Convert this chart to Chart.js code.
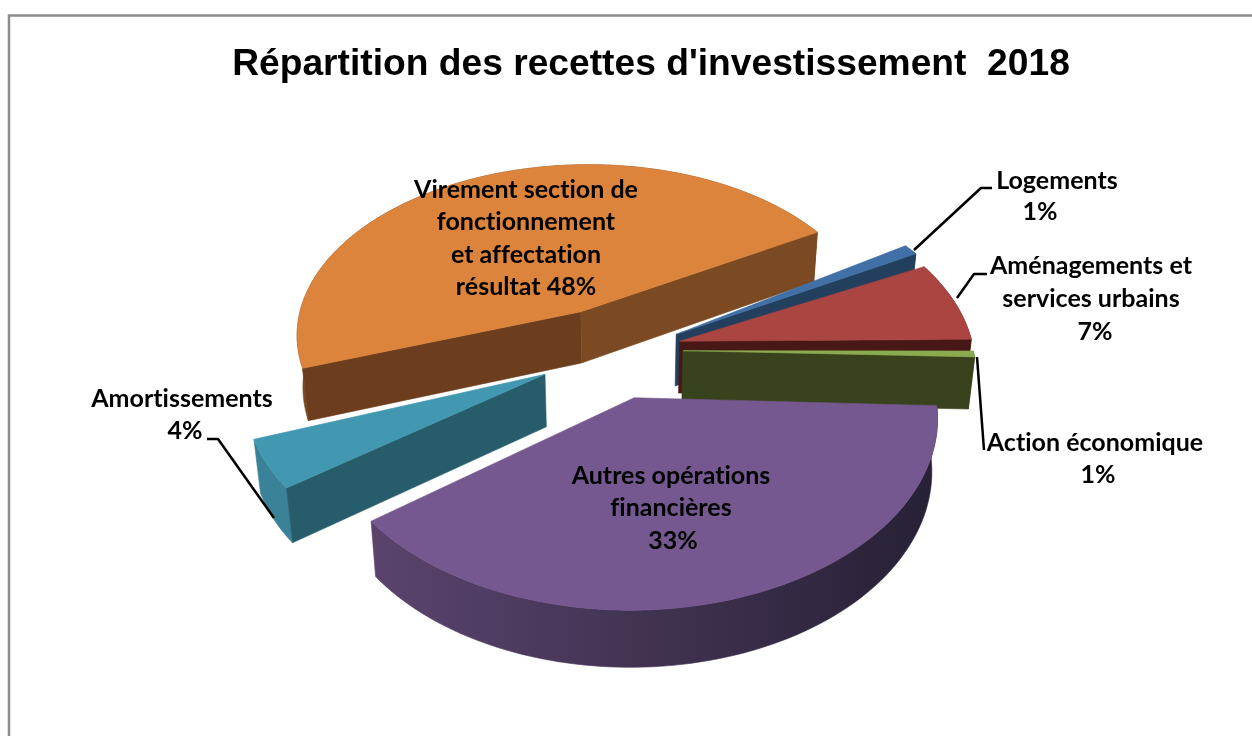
<!DOCTYPE html>
<html><head><meta charset="utf-8">
<style>html,body{margin:0;padding:0;background:#fff}canvas{display:block}</style>
<script src="https://cdn.jsdelivr.net/npm/chart.js@4"></script>
</head><body><canvas id="c" width="1252" height="736"></canvas>
<script>
const categories = ["Logements","Aménagements et services urbains","Action économique","Autres opérations financières","Amortissements","Virement section de fonctionnement et affectation résultat"];
const values = [1,7,1,33,4,48];
const chartTitle = "Répartition des recettes d'investissement  2018";

const topColors = ["#4170A6","#AB4542","#8AAB4F","#75588F","#4198B0","#DD843C"];
const cutStart  = ["#233F5E","#471815","#38431D","#3C2E50","#275C6B","#6C3E1E"];
const cutEnd    = ["#233F5E","#471815","#38431D","#3C2E50","#275C6B","#7B4A23"];
const rimFrom   = ["#233F5E","#6B2B28","#38431D","#5A446E","#3A8297","#7A4A24"];
const rimTo     = ["#233F5E","#6B2B28","#38431D","#272035","#3A8297","#7A4A24"];
const explode   = [21.6,21.3,21.7,26.7,28.8,26.5];
const offsetTurn = [6,0,0,7,0,-7];
const angleTurn = [-4.7,-2.9,-3.5,3.2,11.25,5.2];
const angleSpread = [.9,.97,.5,1.115,1.05,.92];
const radiusStart = [1.04,1.025,1,1,.97,.995];
const radiusEnd   = [1.04,1.015,1,1,.985,1.03];
const radiusBulge = [0,0,0,-.035,0,0];
const drawOrder = [5,0,1,2,4,3];

const labelLines = [
 [["Logements",1057,181],["1%",1040,212]],
 [["Aménagements et",1091,266],["services urbains",1091,299],["7%",1095,332]],
 [["Action économique",1095,443],["1%",1098,475]],
 [["Autres opérations",671,476],["financières",671,508],["33%",673,541]],
 [["Amortissements",182,399],["4%",185,431]],
 [["Virement section de",526,190],["fonctionnement",526,222],["et affectation",526,255],["résultat 48%",526,287]]
];
const leaders = [
 [[992,188],[981,188],[914,250]],
 [[987,274],[974,274],[957,298]],
 [[977,357],[984,450]],
 [[207,439],[218,439],[274,518]]
];

const P = {cx:620, cy:350, A:290, B:175, k:.14, D:52, inset:.982};
function project(U,V,bottom){
  const s = 1/(1-P.k*V);
  let x = P.cx+P.A*U*s, y = P.cy+P.B*V*s;
  if(bottom){ x = P.cx+(x-P.cx)*P.inset; y += P.D*Math.sqrt(s); }
  return [x,y];
}
const pie3d = {
  id:'pie3d',
  beforeDraw(chart){
    const c=chart.ctx; c.save();
    c.fillStyle='#fff'; c.fillRect(0,0,chart.width,chart.height);
    c.strokeStyle='#8C8C8C'; c.lineWidth=2.5;
    c.beginPath(); c.moveTo(9,736); c.lineTo(9,15.5); c.lineTo(1252,15.5); c.stroke();
    c.restore();
  },
  beforeDatasetDraw(chart,args){
    const c=chart.ctx, arcs=args.meta.data, rad=Math.PI/180;
    function poly(pts,fill){
      c.beginPath(); pts.forEach((p,i)=>i?c.lineTo(p[0],p[1]):c.moveTo(p[0],p[1]));
      c.closePath(); c.fillStyle=fill; c.fill(); c.strokeStyle=fill; c.lineWidth=.6; c.stroke();
    }
    drawOrder.forEach(i=>{
      const a=arcs[i], o=a.options;
      const s0=a.startAngle, s1=a.endAngle, mid=(s0+s1)/2;
      const dmid=mid+angleTurn[i]*rad, spread=angleSpread[i];
      const ex=o.offset/100, od=dmid+offsetTurn[i]*rad;
      const ou=ex*Math.cos(od), ov=ex*Math.sin(od);
      const n=Math.max(6,Math.ceil((s1-s0)/(1.5*rad)));
      const rimT=[],rimB=[],ang=[];
      for(let j=0;j<=n;j++){
        const f=j/n;
        const t=dmid+(s0+(s1-s0)*f-mid)*spread;
        const R=radiusStart[i]+(radiusEnd[i]-radiusStart[i])*f+radiusBulge[i]*Math.sin(Math.PI*f);
        ang.push(t);
        const u=ou+R*Math.cos(t), v=ov+R*Math.sin(t);
        rimT.push(project(u,v,false)); rimB.push(project(u,v,true));
      }
      const apT=project(ou,ov,false), apB=project(ou,ov,true);
      const xs=rimT.map(p=>p[0]);
      const g=c.createLinearGradient(Math.min(...xs),0,Math.max(...xs),0);
      g.addColorStop(0,rimFrom[i]); g.addColorStop(1,rimTo[i]);
      poly(rimT.concat(rimB.slice().reverse()),g);
      if(-Math.cos(ang[0])>0) poly([apT,rimT[0],rimB[0],apB],cutStart[i]);
      if(Math.cos(ang[n])>0) poly([apT,rimT[n],rimB[n],apB],cutEnd[i]);
      poly([apT].concat(rimT),o.backgroundColor);
    });
    return false;
  },
  afterDatasetsDraw(chart){
    const c=chart.ctx; c.save();
    c.strokeStyle='#000'; c.lineWidth=2.5; c.lineJoin='round';
    leaders.forEach(l=>{c.beginPath();l.forEach((p,i)=>i?c.lineTo(p[0],p[1]):c.moveTo(p[0],p[1]));c.stroke();});
    c.fillStyle='#000'; c.font='bold 25px Lato'; c.textAlign='center'; c.textBaseline='middle';
    c.letterSpacing='0.01px';
    labelLines.forEach(ls=>ls.forEach(l=>c.fillText(l[0],l[1],l[2])));
    c.restore();
  }
};
new Chart(document.getElementById('c'),{
  type:'pie',
  data:{labels:categories,datasets:[{data:values,backgroundColor:topColors,borderWidth:0,offset:explode}]},
  options:{
    responsive:false,animation:false,rotation:62,
    layout:{padding:{left:50,top:42}},
    plugins:{legend:{display:false},tooltip:{enabled:false},
      title:{display:true,text:chartTitle,color:'#000',font:{family:'"Liberation Sans"',size:37.2,weight:'bold'},padding:{top:0,bottom:10}}}
  },
  plugins:[pie3d]
});
</script></body></html>
